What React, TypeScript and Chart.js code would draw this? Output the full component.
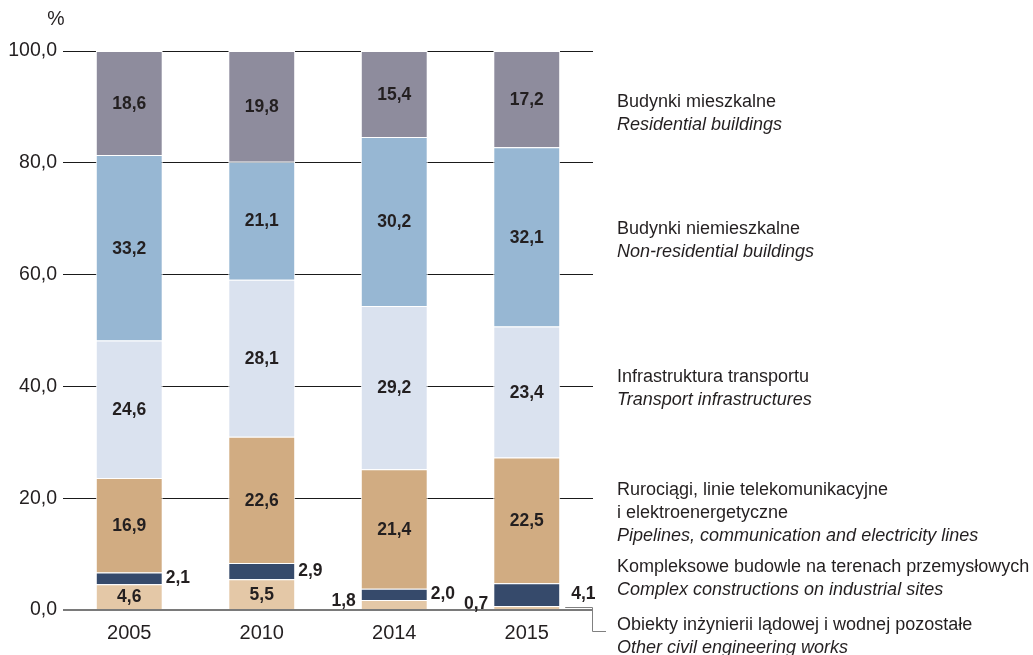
import React, { useEffect, useRef } from "react";
import { Chart, registerables } from "chart.js";

Chart.register(...registerables);

const years = ["2005", "2010", "2014", "2015"];
const otherCivil = [4.6, 5.5, 1.8, 0.7];
const complexSites = [2.1, 2.9, 2.0, 4.1];
const pipelines = [16.9, 22.6, 21.4, 22.5];
const transport = [24.6, 28.1, 29.2, 23.4];
const nonResidential = [33.2, 21.1, 30.2, 32.1];
const residential = [18.6, 19.8, 15.4, 17.2];

const yTicks = [0, 20, 40, 60, 80, 100];

const legendItems = [
  { pl: ["Budynki mieszkalne"], en: "Residential buildings", y: 102 },
  { pl: ["Budynki niemieszkalne"], en: "Non-residential buildings", y: 229 },
  { pl: ["Infrastruktura transportu"], en: "Transport infrastructures", y: 377 },
  { pl: ["Rurociągi, linie telekomunikacyjne", "i elektroenergetyczne"], en: "Pipelines, communication and electricity lines", y: 490 },
  { pl: ["Kompleksowe budowle na terenach przemysłowych"], en: "Complex constructions on industrial sites", y: 567 },
  { pl: ["Obiekty inżynierii lądowej i wodnej pozostałe"], en: "Other civil engineering works", y: 625 },
];

const FONT = "'Liberation Sans', Arial, sans-serif";
const TXT = "#231f20";

const fmt = (v: number) => v.toFixed(1).replace(".", ",");

export default function App() {
  const ref = useRef<HTMLCanvasElement>(null);
  useEffect(() => {
    const canvas = ref.current!;
    const overlay = {
      id: "overlay",
      afterDatasetsDraw(chart: any) {
        const ctx = chart.ctx;
        ctx.save();
        ctx.fillStyle = TXT;
        ctx.font = `19.5px ${FONT}`;
        ctx.textAlign = "center";
        ctx.textBaseline = "middle";
        ctx.fillText("%", 56, 20);

        const lastIdx = chart.data.labels.length - 1;
        chart.data.datasets.forEach((ds: any, di: number) => {
          const meta = chart.getDatasetMeta(di);
          meta.data.forEach((bar: any, i: number) => {
            const v = ds.data[i];
            const props = bar.getProps(["x", "y", "base", "width"], true);
            const cy = (props.y + props.base) / 2;
            const left = props.x - props.width / 2;
            const right = props.x + props.width / 2;
            ctx.font = `bold 17.5px ${FONT}`;
            ctx.fillStyle = TXT;
            ctx.textBaseline = "middle";
            if (di === 1) {
              ctx.textAlign = "left";
              ctx.fillText(fmt(v), right + (i === lastIdx ? 11 : 3), cy);
            } else if (di === 0 && v < 3) {
              ctx.textAlign = "right";
              ctx.fillText(fmt(v), left - 5, cy - 3);
            } else {
              ctx.textAlign = "center";
              ctx.fillText(fmt(v), props.x, cy + 1);
            }
          });
        });

        const meta0 = chart.getDatasetMeta(0);
        const lastBar = meta0.data[meta0.data.length - 1];
        const p = lastBar.getProps(["x", "y", "base", "width"], true);
        const ly = Math.round((p.y + p.base) / 2) - 0.5;
        const lx0 = p.x + p.width / 2 + 5;
        const lx1 = chart.chartArea.right;
        ctx.strokeStyle = "#808080";
        ctx.lineWidth = 1;
        ctx.beginPath();
        ctx.moveTo(lx0, ly);
        ctx.lineTo(lx1 - 0.5, ly);
        ctx.lineTo(lx1 - 0.5, 631.5);
        ctx.lineTo(lx1 + 13, 631.5);
        ctx.stroke();

        legendItems.forEach((it) => {
          let yy = it.y;
          ctx.textAlign = "left";
          ctx.textBaseline = "middle";
          ctx.fillStyle = TXT;
          ctx.font = `18px ${FONT}`;
          it.pl.forEach((line) => {
            ctx.fillText(line, 617, yy);
            yy += 23;
          });
          ctx.font = `italic 18px ${FONT}`;
          ctx.fillText(it.en, 617, yy);
        });
        ctx.restore();
      },
    };

    const chart = new Chart(canvas, {
      type: "bar",
      data: {
        labels: years,
        datasets: [
          { label: "Other civil engineering works", data: otherCivil, backgroundColor: "#e4c8a7" },
          { label: "Complex constructions on industrial sites", data: complexSites, backgroundColor: "#364a6b" },
          { label: "Pipelines, communication and electricity lines", data: pipelines, backgroundColor: "#d1ac82" },
          { label: "Transport infrastructures", data: transport, backgroundColor: "#dae2ef" },
          { label: "Non-residential buildings", data: nonResidential, backgroundColor: "#97b7d3" },
          { label: "Residential buildings", data: residential, backgroundColor: "#8e8c9d" },
        ].map((d) => ({
          ...d,
          borderColor: "#ffffff",
          borderWidth: 1,
          categoryPercentage: 1,
          barPercentage: 0.505,
        })),
      },
      options: {
        animation: false,
        responsive: false,
        layout: { padding: { top: 51, right: 440, left: 0, bottom: 0 } },
        plugins: { legend: { display: false }, tooltip: { enabled: false } },
        scales: {
          x: {
            stacked: true,
            grid: { display: false, drawTicks: false },
            border: { display: false },
            ticks: { color: TXT, font: { family: FONT, size: 20 }, padding: 11 },
            afterFit: (s: any) => {
              s.height = 45;
            },
          },
          y: {
            stacked: true,
            min: 0,
            max: 100,
            afterBuildTicks: (s: any) => {
              s.ticks = yTicks.map((v) => ({ value: v }));
            },
            grid: {
              drawTicks: false,
              color: (c: any) => (c.tick && c.tick.value === 0 ? "#7a7a7a" : "#1a1a1a"),
              lineWidth: (c: any) => (c.tick && c.tick.value === 0 ? 2 : 1),
            },
            border: { display: false },
            ticks: {
              color: TXT,
              font: { family: FONT, size: 19.5 },
              padding: 6,
              callback: (v: any) => fmt(Number(v)),
            },
            afterFit: (s: any) => {
              s.width = 63;
            },
          },
        },
      },
      plugins: [overlay],
    });
    return () => chart.destroy();
  }, []);
  return (
    <div style={{ position: "absolute", left: 0, top: 0, width: 1033, height: 655, background: "#fff" }}>
      <canvas ref={ref} width={1033} height={655} style={{ display: "block" }} />
    </div>
  );
}
